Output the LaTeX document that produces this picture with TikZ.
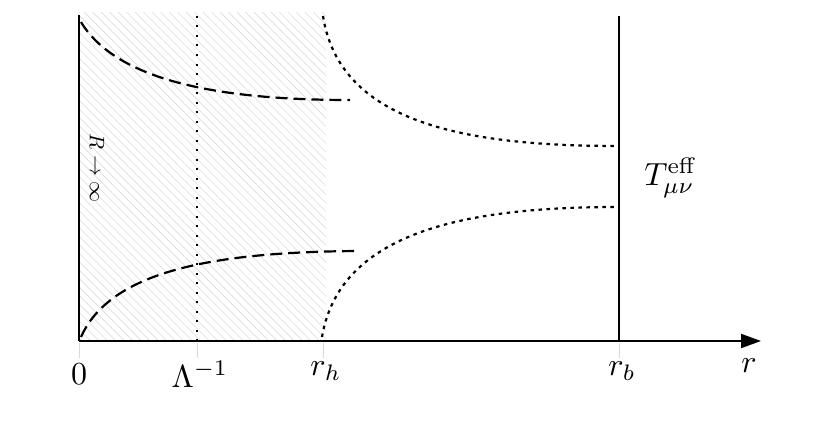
\documentclass[tikz,border=0pt]{standalone}
\usetikzlibrary{arrows.meta,patterns.meta}
\begin{document}
\begin{tikzpicture}[x=1pt,y=-1pt,
  lbl/.style={inner sep=0pt,scale=3.2},
  tick/.style={draw=gray!30,line width=1pt},
  solidln/.style={line width=2pt},
  dashln/.style={line width=2.2pt,dash pattern=on 12pt off 6pt},
  dotln/.style={line width=2.2pt,dash pattern=on 3.5pt off 4.5pt},
  vdot/.style={line width=2pt,dash pattern=on 2pt off 7.5pt}]
\useasboundingbox (0,0) rectangle (837,420);
% hatched region
\fill[pattern={Lines[angle=-45,distance=6pt,line width=0.6pt]},pattern color=gray!28]
  (79,13) rectangle (326,341);
% coordinates
\coordinate (o) at (79,341);
\coordinate (xend) at (761,341);
\coordinate (ltop) at (79,17);
\coordinate (ldot) at (79,8);
\coordinate (lamtop) at (197,16);
\coordinate (lambot) at (197,341);
\coordinate (rbtop) at (619,16);
\coordinate (rbbot) at (619,341);
% ticks
\draw[tick] (79,343) -- (79,358);
\draw[tick] (197,343) -- (197,358);
\draw[tick] (323,343) -- (323,358);
\draw[tick] (619,343) -- (619,358);
% axes and lines
\draw[solidln,-{Triangle[length=20pt,width=14pt]}] (o) -- (xend);
\draw[solidln] (o) -- (ltop);
\draw[vdot] (ltop) -- (ldot);
\draw[vdot] (lambot) -- (lamtop);
\draw[solidln] (rbbot) -- (rbtop);
% curves
\draw[dashln] (81,22) .. controls (115,78) and (210,100) .. (350,100);
\draw[dashln] (81,337) .. controls (110,272) and (210,252) .. (358,251);
\draw[dotln] (323,16) .. controls (340,125) and (470,146) .. (619,146);
\draw[dotln] (322,337) .. controls (340,230) and (470,207) .. (619,207);
% labels
\node[lbl] (l0) at (79,374) {$0$};
\node[lbl] (llam) at (200,374) {$\Lambda^{-1}$};
\node[lbl] (lrh) at (326,371) {$r_h$};
\node[lbl] (lrb) at (622,371) {$r_b$};
\node[lbl] (lr) at (749,366) {$r$};
\node[lbl] (lT) at (671,178) {$T^{\mathrm{eff}}_{\mu\nu}$};
\node[inner sep=0pt,scale=2.1,rotate=-90] (lR) at (97,168) {$R\to\infty$};
\end{tikzpicture}
\end{document}
